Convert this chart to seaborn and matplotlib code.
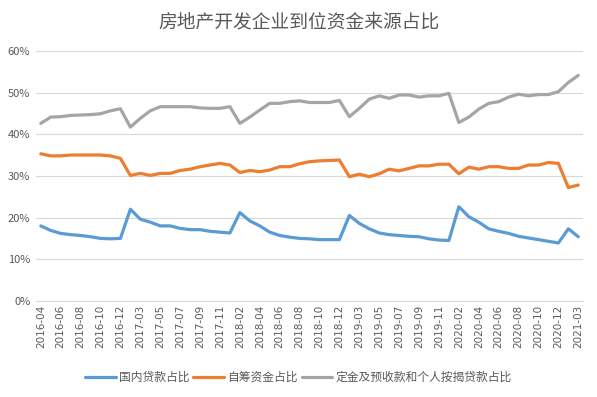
import pandas as pd
import seaborn as sns
import matplotlib.pyplot as plt
from matplotlib.ticker import PercentFormatter

# 月份 (1月与2月合并, 所以没有1月)
months = (["2016-%02d" % m for m in range(4, 13)]
          + ["2017-%02d" % m for m in range(2, 13)]
          + ["2018-%02d" % m for m in range(2, 13)]
          + ["2019-%02d" % m for m in range(2, 13)]
          + ["2020-%02d" % m for m in range(2, 13)]
          + ["2021-02", "2021-03"])

domestic_loans = [18.0, 16.9, 16.2, 15.9, 15.7, 15.4, 15.0, 14.9, 15.0,
                  22.0, 19.6, 18.9, 18.0, 18.0, 17.4, 17.1, 17.1, 16.7, 16.5, 16.3,
                  21.2, 19.2, 18.0, 16.5, 15.7, 15.3, 15.0, 14.9, 14.7, 14.7, 14.7,
                  20.5, 18.6, 17.3, 16.3, 15.9, 15.7, 15.5, 15.4, 14.9, 14.6, 14.5,
                  22.6, 20.2, 18.9, 17.3, 16.7, 16.2, 15.5, 15.1, 14.7, 14.3, 13.9,
                  17.3, 15.4]

self_raised = [35.3, 34.8, 34.8, 35.0, 35.0, 35.0, 35.0, 34.8, 34.2,
               30.1, 30.6, 30.1, 30.6, 30.6, 31.3, 31.6, 32.2, 32.6, 33.0, 32.6,
               30.8, 31.3, 31.0, 31.4, 32.2, 32.2, 32.9, 33.4, 33.6, 33.7, 33.8,
               29.8, 30.4, 29.8, 30.5, 31.6, 31.2, 31.8, 32.4, 32.4, 32.8, 32.8,
               30.5, 32.1, 31.6, 32.2, 32.2, 31.8, 31.8, 32.6, 32.6, 33.2, 33.0,
               27.2, 27.8]

deposits_mortgage = [42.6, 44.1, 44.2, 44.5, 44.6, 44.7, 44.9, 45.6, 46.1,
                     41.7, 43.8, 45.6, 46.6, 46.6, 46.6, 46.6, 46.3, 46.2, 46.2, 46.6,
                     42.6, 44.1, 45.8, 47.4, 47.4, 47.8, 48.0, 47.6, 47.6, 47.6, 48.1,
                     44.2, 46.2, 48.4, 49.2, 48.6, 49.4, 49.4, 48.9, 49.2, 49.2, 49.8,
                     42.8, 44.1, 46.0, 47.4, 47.8, 48.9, 49.6, 49.2, 49.5, 49.5, 50.2,
                     52.4, 54.1]

series_names = ["国内贷款占比", "自筹资金占比", "定金及预收款和个人按揭贷款占比"]
colors = ["#5B9BD5", "#ED7D31", "#A5A5A5"]

df = pd.DataFrame({"idx": range(len(months)),
                   series_names[0]: domestic_loans,
                   series_names[1]: self_raised,
                   series_names[2]: deposits_mortgage})
long_df = df.melt(id_vars="idx", var_name="系列", value_name="占比")

sns.set_style("white")
plt.rcParams['font.family'] = ['Noto Sans CJK SC', 'DejaVu Sans']

fig = plt.figure(figsize=(5.97, 3.97), dpi=100)
ax = fig.add_axes([0.060, 0.242, 0.917, 0.630])

sns.lineplot(data=long_df, x="idx", y="占比", hue="系列", palette=colors,
             linewidth=2.3, ax=ax, legend=False)

ax.set_xlim(-0.5, len(months) - 0.5)
ax.set_ylim(0, 60)
ax.set_yticks(range(0, 61, 10))
ax.yaxis.set_major_formatter(PercentFormatter(decimals=0))
ax.set_xticks(range(0, len(months), 2))
ax.set_xticklabels(months[::2], rotation=90, fontsize=7.5, color="#595959",
                   family="DejaVu Sans")
ax.tick_params(axis="y", labelsize=8, labelcolor="#595959", length=0, pad=4)
ax.tick_params(axis="x", length=0, pad=3)
ax.grid(axis="y", color="#D9D9D9", linewidth=0.8)
ax.set_xlabel("")
ax.set_ylabel("")
for s in ["top", "right", "left"]:
    ax.spines[s].set_visible(False)
ax.spines["bottom"].set_color("#D9D9D9")

fig.suptitle("房地产开发企业到位资金来源占比", y=0.97, fontsize=13.5, color="#595959")

handles = [plt.Line2D([], [], color=c, linewidth=2.3) for c in colors]
fig.legend(handles, series_names, loc="center", bbox_to_anchor=(0.5, 0.05),
           ncol=3, frameon=False, fontsize=8.5, handlelength=2.6,
           columnspacing=0.3, handletextpad=0.3, labelcolor="#595959")

plt.savefig("out.png", dpi=100)
